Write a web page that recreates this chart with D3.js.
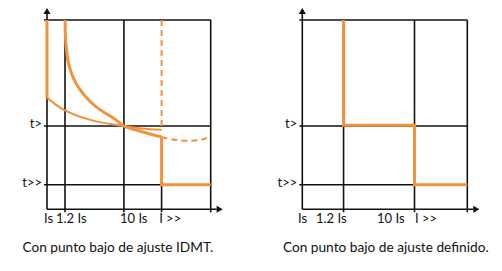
<!DOCTYPE html>
<html>
<head>
<meta charset="utf-8">
<script src="https://cdn.jsdelivr.net/npm/d3@7"></script>
<style>
  body { margin: 0; background: #fff; }
  text { font-family: Lato, "Open Sans", sans-serif; fill: #111; }
</style>
</head>
<body>
<div id="chart"></div>
<script>
// tick labels (shared by both panels)
var xLabels = ["Is", "1.2 Is", "10 Is", "I >>"];
var yLabels = ["t>>", "t>"];
var yTicks = [1.3, 4.4];

// left panel: IDMT low set point (schematic units 0..10)
var gridXLeft = [1.1, 4.7, 10];
var shortXLeft = [7.0];   // only drawn below t>>
var labelXLeft = [-0.18, 0.55, 4.46, 6.85];
var idmtSteep = [[1.1, 10], [1.16, 8.68], [1.34, 7.62], [1.83, 6.57], [2.87, 5.51],
                 [4.22, 4.72], [4.7, 4.4], [5.8, 4.1], [7.0, 3.82]];
var idmtFlat = [[0, 5.9], [1.04, 5.25], [2.87, 4.67], [4.7, 4.4], [5.8, 4.27], [7.0, 4.2]];
var idmtDashed = [[7.0, 3.82], [7.82, 3.67], [8.74, 3.62], [9.47, 3.69], [10, 3.84]];
var startLeft = [[0, 10], [0, 5.9]];
var dashedVert = [[7.0, 10], [7.0, 4.2]];
var highSet = [[7.0, 3.82], [7.0, 1.3], [10, 1.3]];

// right panel: definite time low set point
var gridXRight = [2.5, 6.8, 10];
var labelXRight = [-0.26, 0.83, 4.53, 6.83];
var definite = [[2.5, 10], [2.5, 4.44], [6.8, 4.44], [6.8, 1.3], [10, 1.3]];

var captions = ["Con punto bajo de ajuste IDMT.", "Con punto bajo de ajuste definido."];

var orange = "#f2923b";

var svg = d3.select("#chart").append("svg")
    .attr("width", 502)
    .attr("height", 271);

function drawPanel(x0, x1, gridX, shortX, labelX, caption, capDx, curves) {
  var x = d3.scaleLinear().domain([0, 10]).range([x0, x1]);
  var y = d3.scaleLinear().domain([0, 10]).range([209.3, 20]);
  var g = svg.append("g");

  // vertical grid lines (with little ticks below the axis)
  g.selectAll(".gx").data(gridX).enter().append("line")
      .attr("x1", function(d) { return x(d); })
      .attr("x2", function(d) { return x(d); })
      .attr("y1", y(0) + 3)
      .attr("y2", y(10))
      .attr("stroke", "#111").attr("stroke-width", 1.6);
  g.selectAll(".gs").data(shortX).enter().append("line")
      .attr("x1", function(d) { return x(d); })
      .attr("x2", function(d) { return x(d); })
      .attr("y1", y(0) + 3)
      .attr("y2", y(yTicks[0]))
      .attr("stroke", "#111").attr("stroke-width", 1.6);

  // horizontal grid lines
  g.selectAll(".gy").data(yTicks.concat([10])).enter().append("line")
      .attr("x1", x(0) - 3)
      .attr("x2", x(10))
      .attr("y1", function(d) { return y(d); })
      .attr("y2", function(d) { return y(d); })
      .attr("stroke", "#111").attr("stroke-width", 1.6);

  // axes with arrows
  g.append("line").attr("x1", x(0)).attr("x2", x(0))
      .attr("y1", y(0)).attr("y2", y(10) - 6)
      .attr("stroke", "#111").attr("stroke-width", 1.6);
  g.append("line").attr("x1", x(0)).attr("x2", x(10) + 6)
      .attr("y1", y(0)).attr("y2", y(0))
      .attr("stroke", "#111").attr("stroke-width", 1.6);
  g.append("path")
      .attr("d", d3.symbol(d3.symbolTriangle, 22)())
      .attr("transform", "translate(" + x(0) + "," + (y(10) - 8) + ")")
      .attr("fill", "#111");
  g.append("path")
      .attr("d", d3.symbol(d3.symbolTriangle, 22)())
      .attr("transform", "translate(" + (x(10) + 8) + "," + y(0) + ") rotate(90)")
      .attr("fill", "#111");

  // tick labels
  g.selectAll(".xl").data(xLabels).enter().append("text")
      .attr("x", function(d, i) { return x(labelX[i]); })
      .attr("y", 223)
      .style("font-size", "13px")
      .text(function(d) { return d; });
  g.selectAll(".yl").data(yLabels).enter().append("text")
      .attr("x", x(0) - 5)
      .attr("y", function(d, i) { return y(yTicks[i]) + 2; })
      .attr("text-anchor", "end")
      .style("font-size", "13px")
      .text(function(d) { return d; });

  // orange curves
  curves.forEach(function(c) {
    var line = d3.line()
        .x(function(d) { return x(d[0]); })
        .y(function(d) { return y(d[1]); })
        .curve(c.smooth ? d3.curveCatmullRom.alpha(0.5) : d3.curveLinear);
    g.append("path")
        .datum(c.data)
        .attr("fill", "none")
        .attr("stroke", orange)
        .attr("stroke-width", c.w)
        .attr("stroke-dasharray", c.dash || null)
        .attr("d", line);
  });

  // caption
  g.append("text")
      .attr("x", (x0 + x1) / 2 + capDx)
      .attr("y", 252)
      .attr("text-anchor", "middle")
      .style("font-size", "13.7px")
      .text(caption);
}

drawPanel(47, 210.7, gridXLeft, shortXLeft, labelXLeft, captions[0], -11, [
  {data: startLeft, w: 3},
  {data: idmtFlat, w: 2, smooth: true},
  {data: dashedVert, w: 2, dash: "6,4"},
  {data: idmtDashed, w: 2, dash: "6,4", smooth: true},
  {data: idmtSteep, w: 3, smooth: true},
  {data: highSet, w: 3}
]);

drawPanel(302.3, 467.3, gridXRight, [], labelXRight, captions[1], 1, [
  {data: definite, w: 3}
]);
</script>
</body>
</html>
